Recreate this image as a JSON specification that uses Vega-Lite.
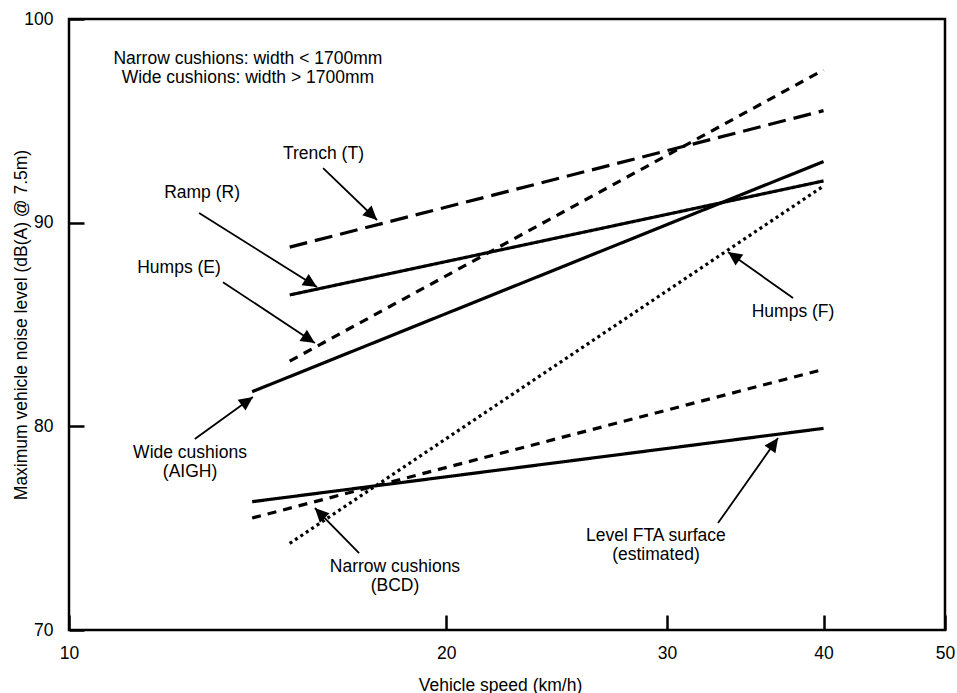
{
  "$schema": "https://vega.github.io/schema/vega-lite/v6.json",
  "width": 876,
  "height": 611,
  "autosize": {"type": "none"},
  "padding": {"left": 69, "top": 19, "right": 12, "bottom": 63},
  "background": "white",
  "config": {
    "font": "Liberation Sans",
    "view": {"stroke": "black", "strokeWidth": 2.5},
    "axis": {
      "domain": false,
      "grid": false,
      "ticks": true,
      "tickColor": "black",
      "tickWidth": 2.5,
      "tickSize": -15,
      "labelColor": "black",
      "labelFont": "Liberation Sans",
      "labelFontSize": 17.5,
      "labelOverlap": false,
      "titleFont": "Liberation Sans",
      "titleFontSize": 17.5,
      "titleFontWeight": "normal",
      "titleColor": "black"
    }
  },
  "datasets": {
    "lines": [
      {"series": "Trench (T)", "speed": 15, "level": 88.8},
      {"series": "Trench (T)", "speed": 40, "level": 95.5},
      {"series": "Ramp (R)", "speed": 15, "level": 86.45},
      {"series": "Ramp (R)", "speed": 40, "level": 92.05},
      {"series": "Humps (E)", "speed": 15, "level": 83.2},
      {"series": "Humps (E)", "speed": 40, "level": 97.5},
      {"series": "Wide cushions (AIGH)", "speed": 14, "level": 81.7},
      {"series": "Wide cushions (AIGH)", "speed": 40, "level": 93.0},
      {"series": "Humps (F)", "speed": 15, "level": 74.25},
      {"series": "Humps (F)", "speed": 40, "level": 91.8},
      {"series": "Narrow cushions (BCD)", "speed": 14, "level": 75.5},
      {"series": "Narrow cushions (BCD)", "speed": 40, "level": 82.8},
      {"series": "Level FTA surface", "speed": 14, "level": 76.3},
      {"series": "Level FTA surface", "speed": 40, "level": 79.9}
    ],
    "labels": [
      {"label": "Narrow cushions: width < 1700mm\nWide cushions: width > 1700mm", "speed": 13.89, "level": 98.03},
      {"label": "Trench (T)", "speed": 15.96, "level": 93.37},
      {"label": "Ramp (R)", "speed": 12.77, "level": 91.45},
      {"label": "Humps (E)", "speed": 12.24, "level": 87.77},
      {"label": "Wide cushions\n(AIGH)", "speed": 12.49, "level": 78.69},
      {"label": "Narrow cushions\n(BCD)", "speed": 18.2, "level": 73.09},
      {"label": "Level FTA surface\n(estimated)", "speed": 29.4, "level": 74.61},
      {"label": "Humps (F)", "speed": 37.82, "level": 85.61}
    ],
    "arrows": [
      {"target": "Trench (T)", "tx": 15.95, "ty": 92.68, "hx": 17.61, "hy": 90.13},
      {"target": "Ramp (R)", "tx": 12.7, "ty": 90.47, "hx": 15.77, "hy": 86.84},
      {"target": "Humps (E)", "tx": 13.27, "ty": 87.08, "hx": 15.71, "hy": 84.09},
      {"target": "Wide cushions (AIGH)", "tx": 12.6, "ty": 79.38, "hx": 14.02, "hy": 81.44},
      {"target": "Narrow cushions (BCD)", "tx": 17.04, "ty": 73.78, "hx": 15.71, "hy": 75.99},
      {"target": "Level FTA surface", "tx": 32.95, "ty": 75.25, "hx": 36.79, "hy": 79.43},
      {"target": "Humps (F)", "tx": 37.82, "ty": 86.3, "hx": 33.56, "hy": 88.56}
    ]
  },
  "layer": [
    {
      "data": {"name": "lines"},
      "mark": {"type": "line", "color": "black", "strokeWidth": 3.2, "strokeCap": "butt"},
      "encoding": {
        "x": {
          "field": "speed",
          "type": "quantitative",
          "scale": {"type": "log", "domain": [10, 50], "nice": false},
          "axis": {
            "values": [10, 20, 30, 40, 50],
            "format": "d",
            "title": "Vehicle speed (km/h)",
            "labelFlush": false,
            "labelPadding": 29,
            "titleX": 431,
            "titleY": 55,
            "titleBaseline": "middle"
          }
        },
        "y": {
          "field": "level",
          "type": "quantitative",
          "scale": {"domain": [70, 100], "nice": false, "zero": false},
          "axis": {
            "values": [70, 80, 90, 100],
            "title": "Maximum vehicle noise level (dB(A) @ 7.5m)",
            "labelPadding": 31,
            "titleX": -48,
            "titleBaseline": "middle"
          }
        },
        "detail": {"field": "series"},
        "strokeDash": {
          "field": "series",
          "type": "nominal",
          "scale": {
            "domain": ["Trench (T)", "Ramp (R)", "Humps (E)", "Wide cushions (AIGH)", "Humps (F)", "Narrow cushions (BCD)", "Level FTA surface"],
            "range": [[18, 8], [1, 0], [9, 7], [1, 0], [3, 3.5], [9, 7], [1, 0]]
          },
          "legend": null
        }
      }
    },
    {
      "data": {"name": "arrows"},
      "mark": {"type": "rule", "color": "black", "strokeWidth": 1.8},
      "encoding": {
        "x": {"field": "tx", "type": "quantitative"},
        "y": {"field": "ty", "type": "quantitative"},
        "x2": {"field": "hx"},
        "y2": {"field": "hy"}
      }
    },
    {
      "data": {"name": "arrows"},
      "transform": [
        {"calculate": "atan2(log(datum.hx / datum.tx) / log(5) * 876, (datum.hy - datum.ty) * 611 / 30) * 180 / PI", "as": "dir"}
      ],
      "mark": {"type": "point", "shape": "M0,0L0.48,1L-0.48,1Z", "filled": true, "color": "black", "opacity": 1, "size": 780},
      "encoding": {
        "x": {"field": "hx", "type": "quantitative"},
        "y": {"field": "hy", "type": "quantitative"},
        "angle": {"field": "dir", "type": "quantitative", "scale": null}
      }
    },
    {
      "data": {"name": "labels"},
      "mark": {"type": "text", "color": "black", "font": "Liberation Sans", "fontSize": 17.5, "lineBreak": "\n", "lineHeight": 18.5, "align": "center", "baseline": "middle"},
      "encoding": {
        "x": {"field": "speed", "type": "quantitative"},
        "y": {"field": "level", "type": "quantitative"},
        "text": {"field": "label"}
      }
    }
  ]
}
